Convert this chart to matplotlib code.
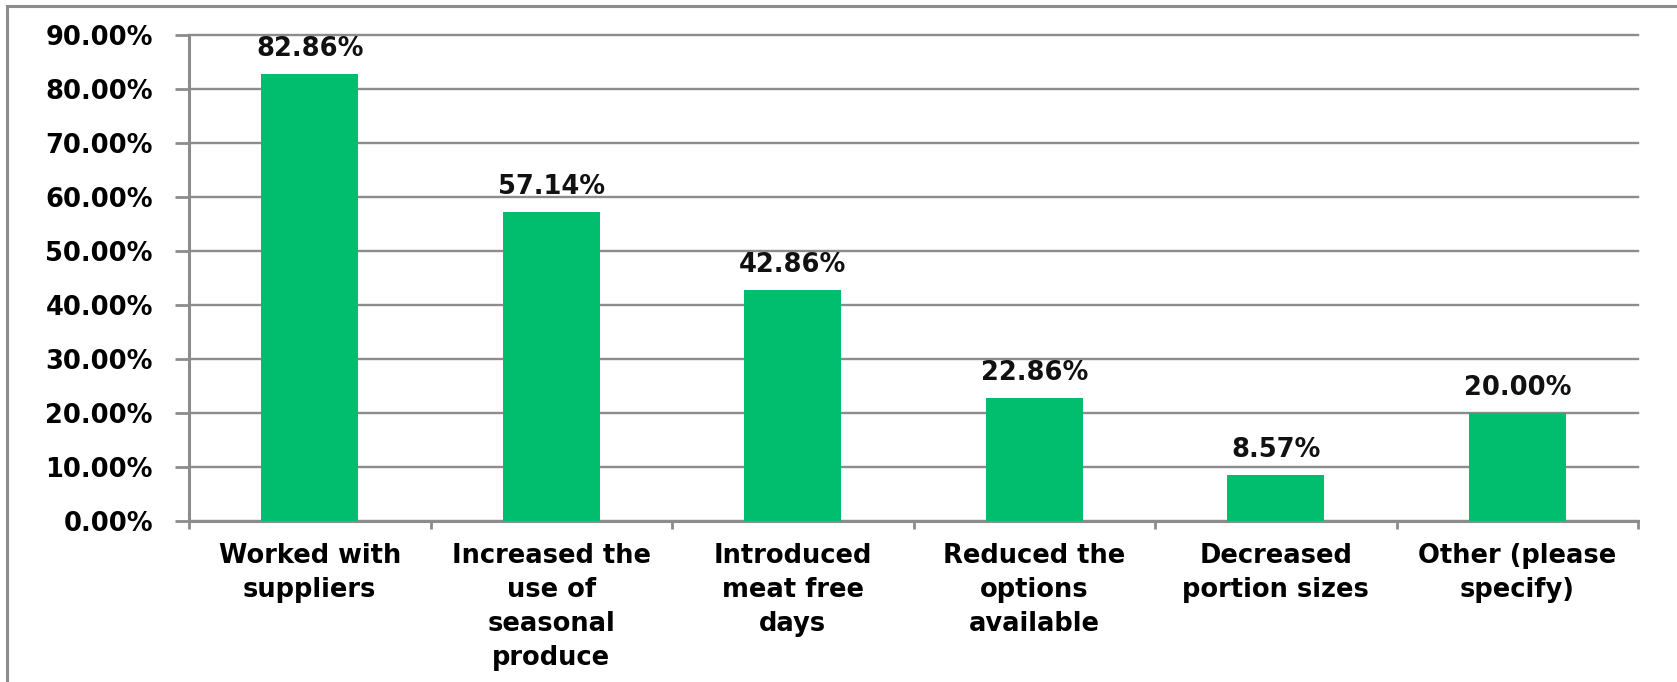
import numpy as np
import matplotlib.pyplot as plt
from matplotlib.patches import Rectangle
from matplotlib.ticker import FuncFormatter, FixedLocator

# survey answers, share of respondents
categories = ['Worked with\nsuppliers',
              'Increased the\nuse of\nseasonal\nproduce',
              'Introduced\nmeat free\ndays',
              'Reduced the\noptions\navailable',
              'Decreased\nportion sizes',
              'Other (please\nspecify)']
values = [82.86, 57.14, 42.86, 22.86, 8.57, 20.00]
yticks = [0, 10, 20, 30, 40, 50, 60, 70, 80, 90]

green = '#00BE6E'
grey = '#8C8C8C'
fs = 18.5

plt.rcParams['font.family'] = 'DejaVu Sans'
plt.rcParams['font.weight'] = 'bold'

fig = plt.figure(figsize=(16.77, 6.82), dpi=100)
ax = fig.add_axes([189/1677, 1-521/682, (1638-189)/1677, (521-35)/682])

# outer chart frame (only top and left edges visible)
fig.patches.append(Rectangle((7/1677, -0.1), 1.2, 1-6/682+0.1,
                             transform=fig.transFigure, fill=False,
                             edgecolor=grey, linewidth=2.2))

x = np.arange(len(categories))
ax.bar(x, values, width=0.4, color=green, zorder=3)

for xi, v in zip(x, values):
    ax.annotate('{:.2f}%'.format(v), (xi, v), xytext=(0, 13), textcoords='offset points',
                ha='center', va='baseline', fontsize=fs, fontweight='bold', color='#111111')

ax.set_xlim(-0.5, len(categories)-0.5)
ax.set_ylim(0, 90)
ax.set_yticks(yticks)
ax.yaxis.set_major_formatter(FuncFormatter(lambda v, p: '{:.2f}%'.format(v)))
ax.grid(axis='y', color=grey, linewidth=1.7, zorder=0)
for gl in ax.get_ygridlines():
    gl.set_clip_on(False)

# category boundaries as ticks, labels at centres
ax.xaxis.set_major_locator(FixedLocator(np.arange(-0.5, len(categories), 1.0)))
ax.xaxis.set_major_formatter(FuncFormatter(lambda v, p: ''))
ax.set_xticks(x, minor=True)
ax.set_xticklabels(categories, minor=True, fontsize=fs, fontweight='bold', linespacing=1.4)
ax.tick_params(axis='x', which='major', length=6, width=2, color=grey, direction='out')
ax.tick_params(axis='x', which='minor', length=0, pad=16)
ax.tick_params(axis='y', length=10, width=2, color=grey, pad=16, labelsize=fs)

for s in ['top', 'right']:
    ax.spines[s].set_visible(False)
for s in ['left', 'bottom']:
    ax.spines[s].set_color(grey)
    ax.spines[s].set_linewidth(2.2)

fig.savefig('out.png', dpi=100)
